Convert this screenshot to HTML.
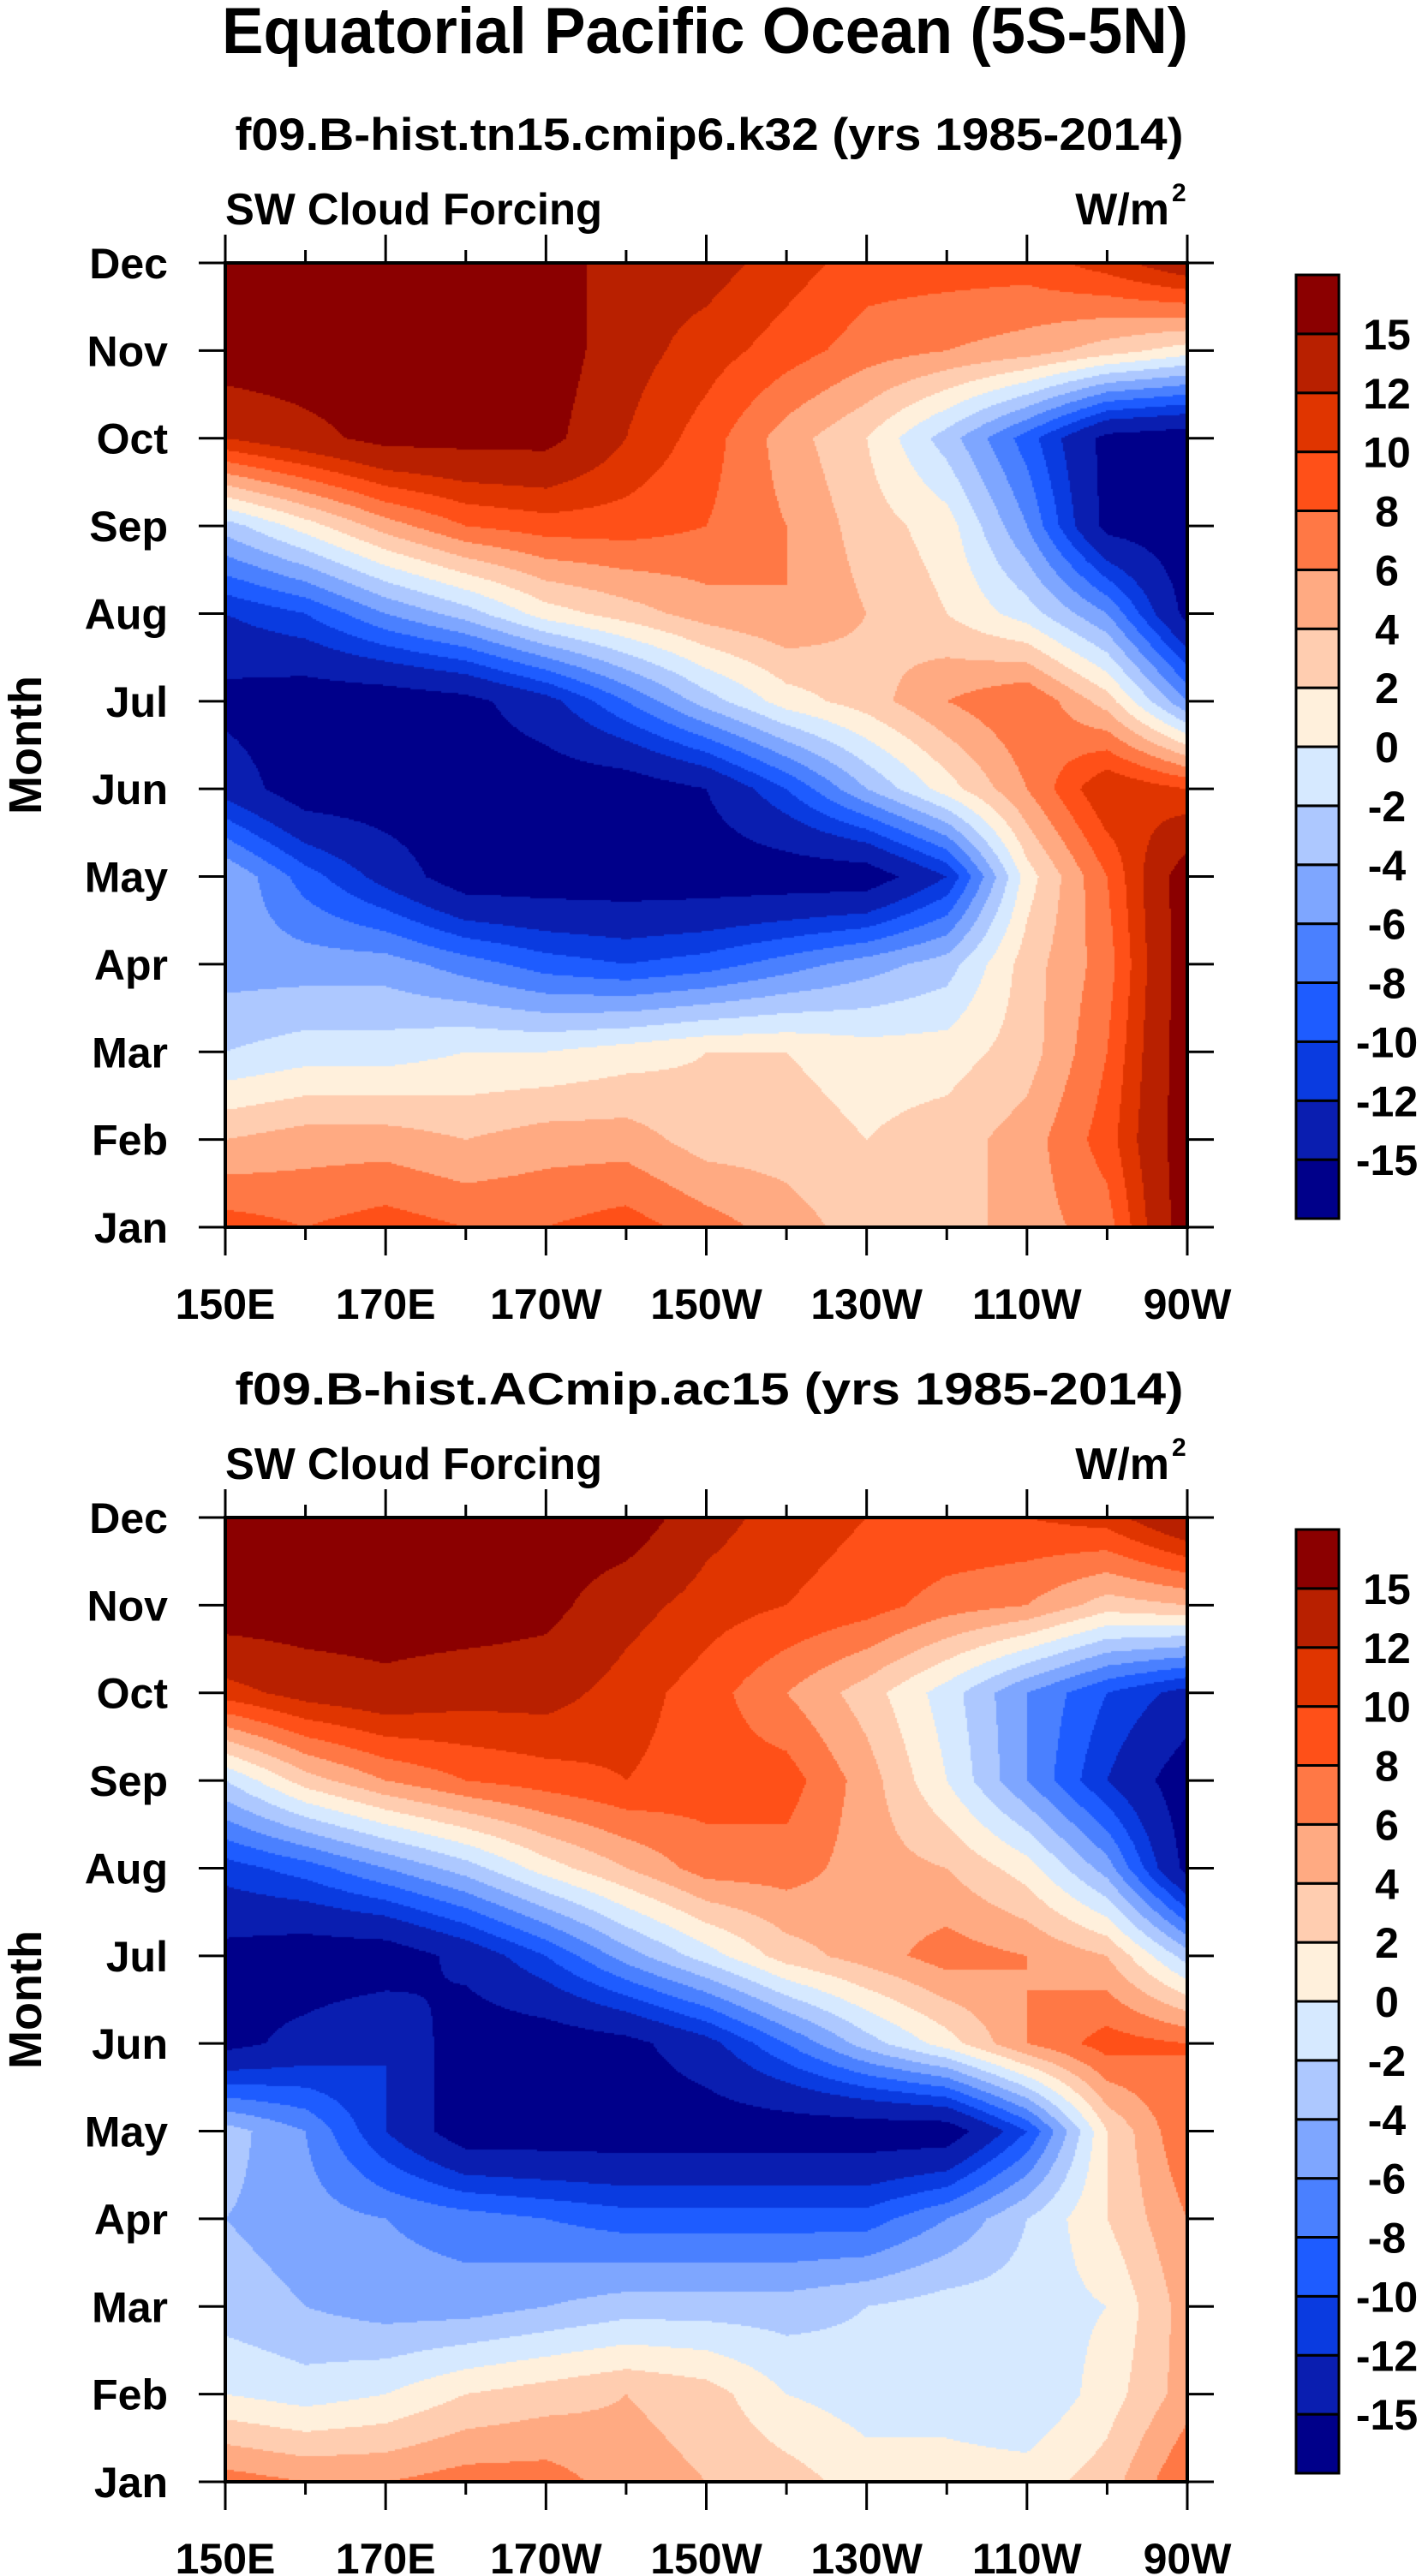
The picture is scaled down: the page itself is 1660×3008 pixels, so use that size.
<!DOCTYPE html>
<html><head><meta charset="utf-8">
<style>
html,body{margin:0;padding:0;background:#fff;}
#wrap{position:relative;width:1660px;height:3008px;overflow:hidden;}
svg{position:absolute;left:0;top:0;}
canvas{position:absolute;}
text{font-family:"Liberation Sans",Arial,sans-serif;font-weight:bold;fill:#000;}
</style></head>
<body>
<div id="wrap">
<canvas id="c1"></canvas>
<canvas id="c2"></canvas>
<svg id="svg" width="1660" height="3008">
<text x="823" y="62" font-size="76" text-anchor="middle" textLength="1128" lengthAdjust="spacingAndGlyphs">Equatorial Pacific Ocean (5S-5N)</text>
</svg>
</div>
<script>
// ---- data ----
const months = ["Jan","Feb","Mar","Apr","May","Jun","Jul","Aug","Sep","Oct","Nov","Dec"];
const lons = [150,160,170,180,190,200,210,220,230,240,250,260,270];
const xTickLons = [150,170,190,210,230,250,270];
const xTickLabels = ["150E","170E","170W","150W","130W","110W","90W"];
const levels = [-15,-12,-10,-8,-6,-4,-2,0,2,4,6,8,10,12,15];
const levelLabels = ["-15","-12","-10","-8","-6","-4","-2","0","2","4","6","8","10","12","15"];
const colors = ["#00008a","#0a1eb0","#0a3be0","#1e5cff","#4a80ff","#7ea6ff","#adc8ff","#d6e9ff","#fff0dc","#ffcdb0","#ffaa82","#ff7845","#ff5018","#e03500","#b82000","#8b0000"];
const titles = ["f09.B-hist.tn15.cmip6.k32 (yrs 1985-2014)","f09.B-hist.ACmip.ac15 (yrs 1985-2014)"];
// rows: Jan..Dec, cols: lons
const valsTop = [
 [9,8,9,8,8,9,7,5,3,3,5,7,17],
 [4,5,5,4,5,5,3,3,2,3,5,9,17],
 [-2,-1,-1,0,0,1,2,2,1,1,3,8,17],
 [-5,-5,-5,-7,-9,-10,-9,-7,-5,-3,3,7,17],
 [-4,-9,-13,-17,-17,-17,-17,-17,-17,-12,1,8,17],
 [-13,-17,-17,-17,-17,-17,-15,-10,-4,1,6,12,10],
 [-16,-17,-17,-16,-13,-8,-3,1,3,6,8,3,-6],
 [-12,-10,-6,-3,1,3,5,6,4,2,-1,-6,-16],
 [-3,1,5,8,9,9,8,6,3,1,-6,-16,-17],
 [12,14,16,16,16,12,9,5,2,-3,-9,-16,-17],
 [17,17,17,17,17,13,11,9,7,6,5,3,1],
 [17,17,15,17,17,13,13,11,9,9,9,11,14]
];
const valsBot = [
 [7,6,6,7,7,5,4,3,1,1,1,3,8],
 [0,-1,0,2,3,4,3,0,-1,-1,-2,1,5],
 [-3,-4,-5,-5,-4,-3,-3,-3,-2,-1,-1,0,5],
 [-4,-5,-6,-7,-8,-9,-9,-9,-9,-6,-2,2,6],
 [-3,-6,-12,-17,-17,-17,-17,-17,-17,-17,-10,2,8],
 [-16,-14,-12,-17,-17,-16,-13,-8,-3,1,6,9,8],
 [-16,-17,-17,-14,-10,-5,-1,3,5,7,6,4,-3],
 [-11,-9,-6,-3,1,4,7,7,5,4,1,-5,-16],
 [-2,3,6,8,9,10,9,9,5,0,-6,-12,-17],
 [11,13,14,13,13,11,9,6,3,-1,-6,-10,-13],
 [17,17,17,17,16,13,11,10,9,7,6,3,4],
 [17,17,17,17,17,17,13,11,10,10,10,11,15]
];
// ---- layout ----
const PL=263, PR=1386, PH=1126;
const panelsTop=[307,1772];
const NS="http://www.w3.org/2000/svg";
const svg=document.getElementById('svg');
function xS(lon){return PL+(lon-150)/120*(PR-PL);}
function yS(m,top){return top+PH-(m/11)*PH;}
function colorFor(v){let i=0;while(i<levels.length&&v>=levels[i])i++;return colors[i];}
function interp(vals,lon,m){
 let fx=(lon-150)/10, fy=m;
 let i=Math.min(Math.floor(fx),11), j=Math.min(Math.floor(fy),10);
 let tx=fx-i, ty=fy-j;
 let a=vals[j][i],b=vals[j][i+1],c=vals[j+1][i],d=vals[j+1][i+1];
 return a*(1-tx)*(1-ty)+b*tx*(1-ty)+c*(1-tx)*ty+d*tx*ty;
}
function mk(tag,attrs,parent){const e=document.createElementNS(NS,tag);for(const k in attrs)e.setAttribute(k,attrs[k]);(parent||svg).appendChild(e);return e;}
function drawPanel(p){
 const top=panelsTop[p], vals=p===0?valsTop:valsBot;
 const cv=document.getElementById(p===0?'c1':'c2');
 const W=PR-PL, H=PH; cv.width=W; cv.height=H;
 cv.style.left=PL+'px'; cv.style.top=top+'px';
 const ctx=cv.getContext('2d'); const s=2;
 for(let py=0;py<H;py+=s){
  const m=(H-(py+s/2))/H*11;
  for(let px=0;px<W;px+=s){
   const lon=150+(px+s/2)/W*120;
   ctx.fillStyle=colorFor(interp(vals,lon,m));
   ctx.fillRect(px,py,s,s);
  }
 }
 const fr=mk('rect',{x:PL,y:top,width:PR-PL,height:PH,fill:'none',stroke:'#000','stroke-width':4});
 
 
 for(let lon=150;lon<=270;lon+=10){
  const major=(lon-150)%20===0, len=major?33:15, x=xS(lon);
  const t1=mk('line',{x1:x,y1:top,x2:x,y2:top-len,stroke:'#000','stroke-width':3});
  
  
  const t2=mk('line',{x1:x,y1:top+PH,x2:x,y2:top+PH+len,stroke:'#000','stroke-width':3});
  
  
 }
 xTickLons.forEach((lon,i)=>{
  const t=mk('text',{x:xS(lon),y:top+PH+107,'font-size':50,'text-anchor':'middle'});
  t.textContent=xTickLabels[i];
  
  
 });
 months.forEach((mn,m)=>{
  const y=yS(m,top);
  const a=mk('line',{x1:PL-31,y1:y,x2:PL,y2:y,stroke:'#000','stroke-width':3});
  
  
  const b=mk('line',{x1:PR,y1:y,x2:PR+31,y2:y,stroke:'#000','stroke-width':3});
  
  
  const t=mk('text',{x:196,y:y+18,'font-size':50,'text-anchor':'end'});
  t.textContent=mn;
  
  
 });
 const yt=mk('text',{x:0,y:0,'font-size':54,'text-anchor':'middle',transform:`translate(48,${top+PH/2}) rotate(-90)`});
 yt.textContent='Month';
 
 
 const st=mk('text',{x:828,y:top-132,'font-size':53,'text-anchor':'middle',textLength:1107,lengthAdjust:'spacingAndGlyphs'});
 st.textContent=titles[p];
 
 
 const lt=mk('text',{x:263,y:top-45,'font-size':52,textLength:440,lengthAdjust:'spacingAndGlyphs'});
 lt.textContent='SW Cloud Forcing';
 
 
 const ut=mk('text',{x:1365,y:top-45,'font-size':52,'text-anchor':'end'});
 ut.textContent='W/m';
 
 
 const sup=mk('text',{x:1368,y:top-72,'font-size':30});
 sup.textContent='2';
 
 
 const cbT=top+14, cbH=1102, bh=cbH/colors.length, cbX=1513, cbW=50;
 colors.forEach((c,i)=>{
  const r=mk('rect',{x:cbX,y:cbT+cbH-(i+1)*bh,width:cbW,height:bh,fill:c,stroke:'#000','stroke-width':3});
  
  
 });
 levelLabels.forEach((l,i)=>{
  const t=mk('text',{x:1619,y:cbT+cbH-(i+1)*bh+18,'font-size':50,'text-anchor':'middle'});
  t.textContent=l;
  
  
 });
}
drawPanel(0);drawPanel(1);
</script>
</body></html>
